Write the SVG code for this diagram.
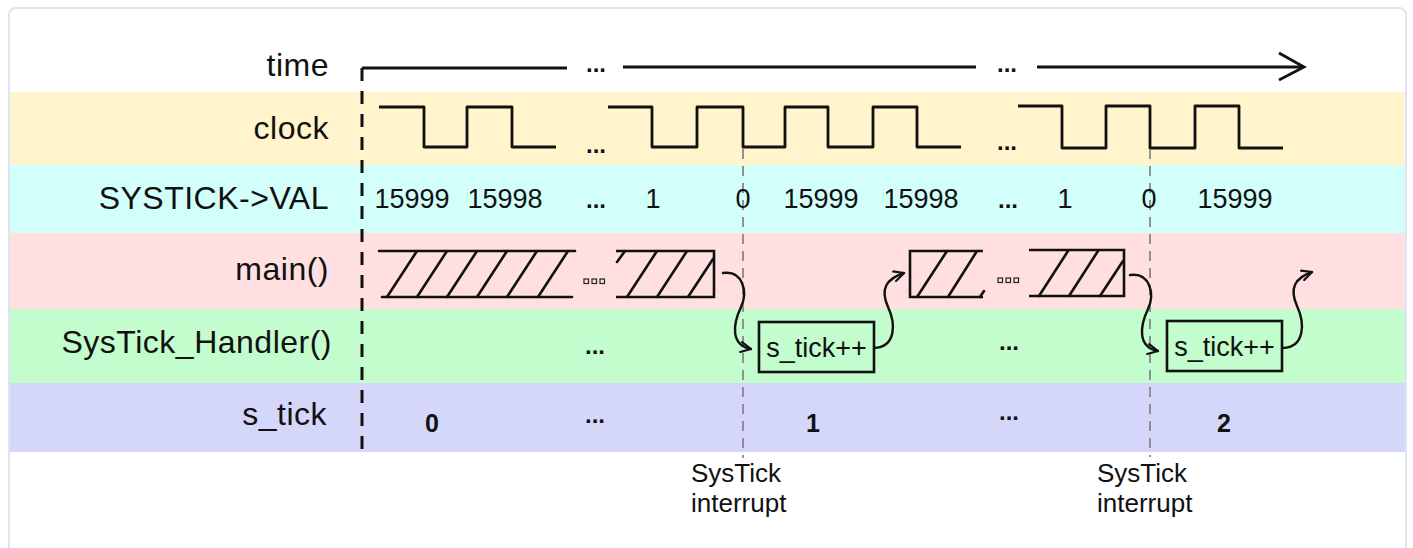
<svg xmlns="http://www.w3.org/2000/svg" width="1413" height="548" viewBox="0 0 1413 548">
  <style>
    .lbl { font-family: "Liberation Sans", Arial, sans-serif; font-size: 32px; letter-spacing: 0.5px; fill: #111; text-anchor: end; }
    .num { font-family: "Liberation Sans", Arial, sans-serif; font-size: 27px; fill: #111; text-anchor: middle; }
    .bold { font-family: "Liberation Sans", Arial, sans-serif; font-size: 25px; font-weight: bold; fill: #111; text-anchor: middle; }
    .dots { font-family: "Liberation Sans", Arial, sans-serif; font-size: 24px; font-weight: bold; fill: #111; text-anchor: middle; }
    .note { font-family: "Liberation Sans", Arial, sans-serif; font-size: 26px; fill: #111; }
    .wave { fill: none; stroke: #111; stroke-width: 2.8; stroke-linejoin: round; }
    .hatch { fill: none; stroke: #111; stroke-width: 2.6; stroke-linecap: round; }
    .box { fill: none; stroke: #111; stroke-width: 2.6; }
    .conn { fill: none; stroke: #111; stroke-width: 2.4; stroke-linecap: round; }
    .sq { fill: none; stroke: #222; stroke-width: 1.2; }
    .gdash { stroke: #888; stroke-width: 1.8; stroke-dasharray: 10 7; fill: none; }
  </style>
  <defs>
    <marker id="open" viewBox="0 0 12 12" refX="11" refY="6" markerWidth="12" markerHeight="12" markerUnits="userSpaceOnUse" orient="auto">
      <path d="M1,1 L11,6 L1,11" fill="none" stroke="#111" stroke-width="2.2" stroke-linecap="round" stroke-linejoin="round"/>
    </marker>
  </defs>

  <rect x="0" y="0" width="1413" height="548" fill="#ffffff"/>
  <rect x="9" y="8" width="1397" height="560" rx="7" ry="7" fill="#ffffff" stroke="#dfe4f3" stroke-width="2"/>

  <g id="bands">
    <rect x="10" y="92" width="1395" height="73" fill="#fff4cc"/>
    <rect x="10" y="165" width="1395" height="68" fill="#d3fffa"/>
    <rect x="10" y="233" width="1395" height="76" fill="#ffdfdf"/>
    <rect x="10" y="309" width="1395" height="74" fill="#c3fccd"/>
    <rect x="10" y="383" width="1395" height="69" fill="#d4d7fa"/>
  </g>

  <g id="row-labels">
    <text class="lbl" x="329" y="76">time</text>
    <text class="lbl" x="329" y="139">clock</text>
    <text class="lbl" x="329" y="209">SYSTICK-&gt;VAL</text>
    <text class="lbl" x="329" y="280">main()</text>
    <text class="lbl" x="332" y="353">SysTick_Handler()</text>
    <text class="lbl" x="327" y="425">s_tick</text>
  </g>

  <g id="time-axis">
    <line x1="362" y1="68" x2="567" y2="68" stroke="#111" stroke-width="2.8"/>
    <line x1="623" y1="67" x2="976" y2="67" stroke="#111" stroke-width="2.8"/>
    <line x1="1037" y1="67" x2="1303" y2="67" stroke="#111" stroke-width="2.8"/>
    <polyline points="1279,53 1304,67 1279,80" fill="none" stroke="#111" stroke-width="2.8" stroke-linejoin="miter"/>
    <line x1="362" y1="68" x2="362" y2="452" stroke="#111" stroke-width="3" stroke-dasharray="13 10"/>
    <text class="dots" x="596" y="72">...</text>
    <text class="dots" x="1007" y="72">...</text>
  </g>

  <g id="clock">
    <path class="wave" d="M379,107 H424 V147 H467 V107 H512 V147 H556"/>
    <path class="wave" d="M608,107 H652 V147 H697 V107 H743 V147 H785 V107 H828 V147 H873 V107 H917 V147 H961"/>
    <path class="wave" d="M1018,106 H1062 V148 H1106 V106 H1150 V148 H1195 V106 H1239 V148 H1283"/>
    <text class="dots" x="596" y="153">...</text>
    <text class="dots" x="1007" y="150">...</text>
  </g>

  <g id="interrupt-lines">
    <line class="gdash" x1="743" y1="149" x2="743" y2="458"/>
    <line class="gdash" x1="1150" y1="149" x2="1150" y2="457"/>
  </g>

  <g id="systick-val">
    <text class="num" x="412" y="208">15999</text>
    <text class="num" x="505" y="208">15998</text>
    <text class="dots" x="596" y="208">...</text>
    <text class="num" x="653" y="208">1</text>
    <text class="num" x="743" y="208">0</text>
    <text class="num" x="821" y="208">15999</text>
    <text class="num" x="921" y="208">15998</text>
    <text class="dots" x="1008" y="208">...</text>
    <text class="num" x="1065" y="208">1</text>
    <text class="num" x="1149" y="208">0</text>
    <text class="num" x="1235" y="208">15999</text>
  </g>

  <g id="main-block-1">
    <line class="hatch" x1="379" y1="251" x2="575" y2="251"/>
    <line class="hatch" x1="382" y1="297" x2="572" y2="297"/>
    <path class="hatch" d="M387,297 L417,251 M417,297 L447,251 M447,297 L477,251 M477,297 L507,251 M507,297 L537,251 M538,297 L568,251"/>
  </g>
  <g id="main-gap-1">
    <rect class="sq" x="584" y="279" width="4.5" height="4.5"/>
    <rect class="sq" x="592" y="279" width="4.5" height="4.5"/>
    <rect class="sq" x="600" y="279" width="4.5" height="4.5"/>
  </g>
  <g id="main-block-2">
    <path class="box" d="M616,251 H714 V297 H616"/>
    <path class="hatch" d="M617,262 L625,251 M627,297 L657,251 M657,297 L687,251 M688,297 L713,259"/>
  </g>
  <g id="main-block-3">
    <path class="box" d="M983,251 H910 V297 H983"/>
    <path class="hatch" d="M917,297 L947,251 M948,297 L977,251 M980,297 L984,291"/>
  </g>
  <g id="main-gap-2">
    <rect class="sq" x="998" y="278" width="4.5" height="4.5"/>
    <rect class="sq" x="1006" y="278" width="4.5" height="4.5"/>
    <rect class="sq" x="1014" y="278" width="4.5" height="4.5"/>
  </g>
  <g id="main-block-4">
    <path class="box" d="M1029,250 H1124 V296 H1029"/>
    <path class="hatch" d="M1039,296 L1068,251 M1069,296 L1098,251 M1100,296 L1123,261"/>
  </g>

  <g id="handler-1">
    <rect class="box" x="759" y="322" width="115" height="50"/>
    <text class="num" x="816.5" y="357">s_tick++</text>
  </g>
  <g id="handler-2">
    <rect class="box" x="1167" y="321" width="115" height="50"/>
    <text class="num" x="1224.5" y="356">s_tick++</text>
  </g>
  <g id="handler-dots">
    <text class="dots" x="595" y="354">...</text>
    <text class="dots" x="1009" y="350">...</text>
  </g>

  <g id="s-tick-values">
    <text class="bold" x="432" y="432">0</text>
    <text class="dots" x="595" y="423">...</text>
    <text class="bold" x="813" y="432">1</text>
    <text class="dots" x="1009" y="420">...</text>
    <text class="bold" x="1224" y="432">2</text>
  </g>

  <g id="connectors">
    <path class="conn" marker-end="url(#open)" d="M723,273 C743,270 748,292 741,307 C733,324 730,345 751,349"/>
    <path class="conn" marker-end="url(#open)" d="M874,348 C896,347 896,324 888,307 C880,289 886,279 904,273"/>
    <path class="conn" marker-end="url(#open)" d="M1130,275 C1150,272 1155,294 1148,309 C1140,326 1137,347 1158,351"/>
    <path class="conn" marker-end="url(#open)" d="M1283,348 C1305,347 1305,323 1297,306 C1289,288 1295,278 1312,272"/>
  </g>

  <g id="interrupt-labels">
    <text class="note" x="691" y="482">SysTick</text>
    <text class="note" x="691" y="512">interrupt</text>
    <text class="note" x="1097" y="482">SysTick</text>
    <text class="note" x="1097" y="512">interrupt</text>
  </g>
</svg>
